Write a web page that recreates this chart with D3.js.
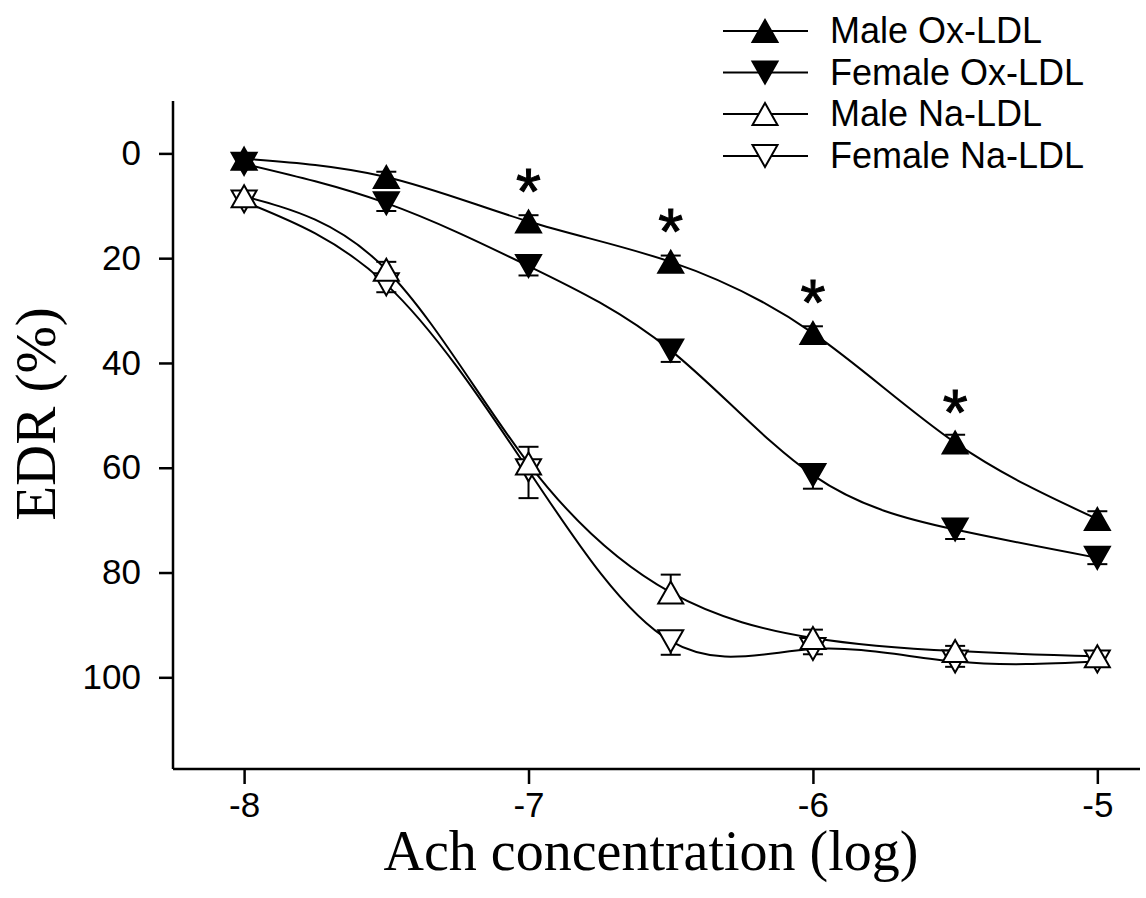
<!DOCTYPE html>
<html>
<head>
<meta charset="utf-8">
<script src="https://cdn.jsdelivr.net/npm/d3@7"></script>
<style>
  html, body { margin: 0; padding: 0; background: #fff; }
  svg { display: block; }
</style>
</head>
<body>
<svg id="chart" width="1146" height="898"></svg>
<script>
// Log Ach concentration (M) for each dose step
const concentrations = [-8, -7.5, -7, -6.5, -6, -5.5, -5];
const xTicks = [-8, -7, -6, -5];
const yTicks = [0, 20, 40, 60, 80, 100];

// Endothelium-dependent relaxation (%), mean and SEM
const maleOx      = [1.0, 4.5, 13.0, 20.7, 34.3, 55.2, 69.8];
const maleOxErr   = [1.0, 1.0, 1.2, 1.2, 1.3, 1.5, 1.5];
const femaleOx    = [2.0, 9.5, 21.5, 37.6, 61.4, 71.8, 77.2];
const femaleOxErr = [1.0, 1.5, 1.8, 2.2, 2.6, 1.8, 1.2];
const maleNa      = [8.2, 22.2, 59.2, 83.8, 92.5, 95.0, 96.0];
const maleNaErr   = [1.0, 1.5, 3.2, 3.4, 1.6, 1.0, 1.0];
const femaleNa    = [9.2, 25.0, 60.5, 93.1, 94.6, 97.0, 97.0];
const femaleNaErr = [1.0, 1.5, 5.3, 2.6, 1.0, 1.0, 1.0];

// Significant male vs female Ox-LDL difference at these doses
const significant = [false, false, true, true, true, true, false];

const seriesNames = ["Male Ox-LDL", "Female Ox-LDL", "Male Na-LDL", "Female Na-LDL"];

const series = [
  { name: seriesNames[0], values: maleOx,   err: maleOxErr,   up: true,  filled: true },
  { name: seriesNames[1], values: femaleOx, err: femaleOxErr, up: false, filled: true },
  { name: seriesNames[2], values: maleNa,   err: maleNaErr,   up: true,  filled: false },
  { name: seriesNames[3], values: femaleNa, err: femaleNaErr, up: false, filled: false }
];

const svg = d3.select("#chart");
const sans = "'Liberation Sans', Arial, Helvetica, sans-serif";
const serif = "'Liberation Serif', 'Times New Roman', Times, serif";

const x = d3.scaleLinear().domain([-8.25, -4.85]).range([173, 1140]);
const y = d3.scaleLinear().domain([-10, 117.5]).range([101, 769]);

// Triangle marker path, bbox centred on the point
const triW = 25, triH = 22;
function triangle(up) {
  const h = triH / 2, w = triW / 2;
  return up
    ? `M0,${-h}L${w},${h}L${-w},${h}Z`
    : `M0,${h}L${w},${-h}L${-w},${-h}Z`;
}

// Axes (plain hyphen for negative labels)
const xAxis = d3.axisBottom(x).tickValues(xTicks).tickSize(15).tickPadding(8)
  .tickFormat(d => String(d));
const yAxis = d3.axisLeft(y).tickValues(yTicks).tickSize(14).tickPadding(18)
  .tickFormat(d => String(d));

const gx = svg.append("g").attr("transform", `translate(0,${y.range()[1]})`).call(xAxis);
const gy = svg.append("g").attr("transform", `translate(${x.range()[0]},0)`).call(yAxis);

[gx, gy].forEach(g => {
  g.select(".domain").attr("stroke", "#000").attr("stroke-width", 2.5);
  g.selectAll(".tick line").attr("stroke", "#000").attr("stroke-width", 2.5);
  g.selectAll(".tick text").attr("fill", "#000")
    .style("font-family", sans).style("font-size", "35px");
});
// axes meet at the corner without extra end caps
gx.select(".domain").attr("d", `M${x.range()[0]},0H${x.range()[1]}`);
gy.select(".domain").attr("d", `M0,${y.range()[0]}V${y.range()[1]}`);

// Curves
const line = d3.line()
  .x((d, i) => x(concentrations[i]))
  .y(d => y(d))
  .curve(d3.curveNatural);

const plot = svg.append("g");
series.forEach(s => {
  plot.append("path")
    .attr("d", line(s.values))
    .attr("fill", "none")
    .attr("stroke", "#000")
    .attr("stroke-width", 2);
});

// Error bars: male groups extend upward, female groups downward
series.forEach(s => {
  const g = plot.append("g");
  s.values.forEach((v, i) => {
    const cx = x(concentrations[i]);
    const end = s.up ? v - s.err[i] : v + s.err[i];
    g.append("line")
      .attr("x1", cx).attr("x2", cx)
      .attr("y1", y(v)).attr("y2", y(end))
      .attr("stroke", "#000").attr("stroke-width", 2);
    g.append("line")
      .attr("x1", cx - 10).attr("x2", cx + 10)
      .attr("y1", y(end)).attr("y2", y(end))
      .attr("stroke", "#000").attr("stroke-width", 2);
  });
});

// Markers
series.slice().reverse().forEach(s => {
  plot.append("g").selectAll("path")
    .data(s.values)
    .join("path")
    .attr("transform", (d, i) => `translate(${x(concentrations[i])},${y(d)})`)
    .attr("d", triangle(s.up))
    .attr("fill", s.filled ? "#000" : "#fff")
    .attr("stroke", "#000")
    .attr("stroke-width", 2)
    .attr("stroke-linejoin", "miter");
});

// Significance asterisks above the male Ox-LDL points
plot.append("g").selectAll("text")
  .data(concentrations.filter((c, i) => significant[i]))
  .join("text")
  .attr("x", d => x(d))
  .attr("y", d => y(maleOx[concentrations.indexOf(d)]) - 8)
  .attr("text-anchor", "middle")
  .attr("stroke", "#000")
  .attr("stroke-width", 1)
  .style("font-family", sans)
  .style("font-size", "64px")
  .text("*");

// Axis titles
svg.append("text")
  .attr("x", 651).attr("y", 870)
  .attr("text-anchor", "middle")
  .style("font-family", serif).style("font-size", "56px")
  .text("Ach concentration (log)");

svg.append("text")
  .attr("transform", "translate(55,414) rotate(-90)")
  .attr("text-anchor", "middle")
  .style("font-family", serif).style("font-size", "57px")
  .text("EDR (%)");

// Legend
const legendRows = [31, 72.5, 114, 156];
const legend = svg.append("g");
series.forEach((s, i) => {
  const ly = legendRows[i];
  legend.append("line")
    .attr("x1", 723).attr("x2", 808).attr("y1", ly).attr("y2", ly)
    .attr("stroke", "#000").attr("stroke-width", 2);
  legend.append("path")
    .attr("transform", `translate(765,${ly})`)
    .attr("d", triangle(s.up))
    .attr("fill", s.filled ? "#000" : "#fff")
    .attr("stroke", "#000").attr("stroke-width", 2);
  legend.append("text")
    .attr("x", 830).attr("y", ly + 12)
    .style("font-family", sans).style("font-size", "36px")
    .text(s.name);
});
</script>
</body>
</html>
